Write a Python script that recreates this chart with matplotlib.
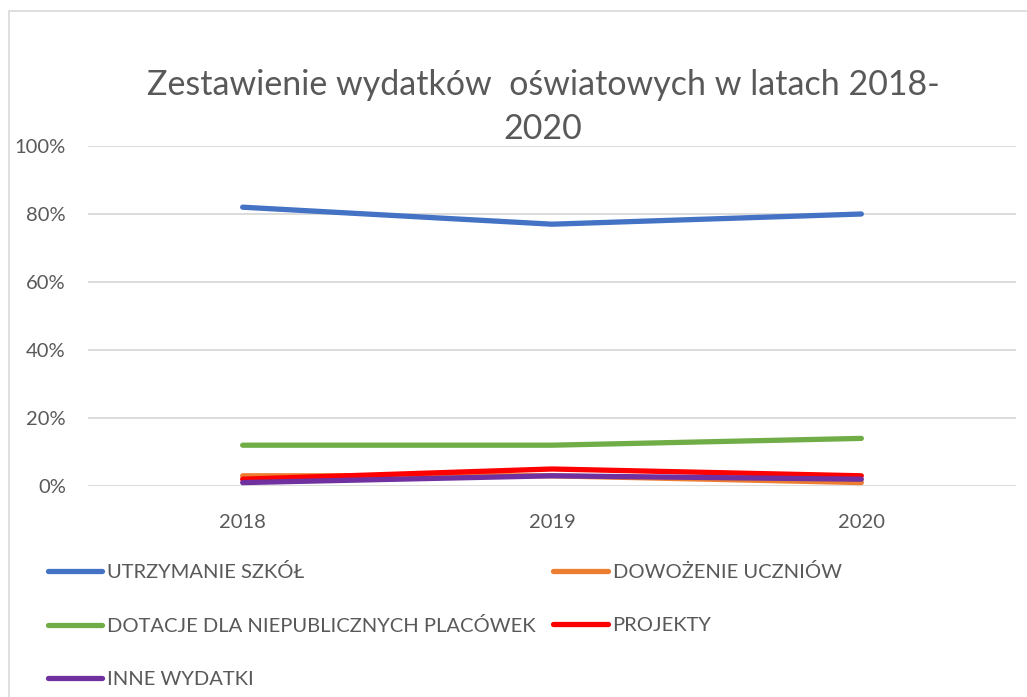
import numpy as np
import matplotlib.pyplot as plt
from matplotlib.patches import Rectangle
from matplotlib.ticker import PercentFormatter

plt.rcParams['font.family'] = ['Lato', 'DejaVu Sans']

# dane (udział w wydatkach)
years = ['2018', '2019', '2020']
utrzymanie = [0.82, 0.77, 0.80]
dowozenie = [0.03, 0.03, 0.01]
dotacje = [0.12, 0.12, 0.14]
projekty = [0.02, 0.05, 0.03]
inne = [0.01, 0.03, 0.02]

series = [
    ('UTRZYMANIE SZKÓŁ', utrzymanie, '#4472C4'),
    ('DOWOŻENIE UCZNIÓW', dowozenie, '#ED7D31'),
    ('DOTACJE DLA NIEPUBLICZNYCH PLACÓWEK', dotacje, '#70AD47'),
    ('PROJEKTY', projekty, '#FF0000'),
    ('INNE WYDATKI', inne, '#7030A0'),
]

W, H = 1027, 697
fig = plt.figure(figsize=(W / 100, H / 100), dpi=100)
ax = fig.add_axes([88 / W, 1 - 486 / H, (1016 - 88) / W, (486 - 146) / H])

x = np.arange(len(years))
lines = {}
for name, vals, col in series:
    ln, = ax.plot(x, vals, color=col, lw=3.8, solid_capstyle='round',
                  solid_joinstyle='round', label=name)
    lines[name] = ln

ax.set_xlim(-0.5, len(years) - 0.5)
ax.set_ylim(0, 1)
ax.set_yticks(np.arange(0, 1.01, 0.2))
ax.yaxis.set_major_formatter(PercentFormatter(1.0, decimals=0))
ax.set_xticks(x)
ax.set_xticklabels(years)
ax.grid(axis='y', color='#D9D9D9', lw=1.3)
ax.set_axisbelow(True)
for s in ax.spines.values():
    s.set_visible(False)
ax.tick_params(length=0, labelsize=14.5, colors='#595959', pad=16)
ax.tick_params(axis='x', pad=20)

fig.text(543 / W, 1 - 107 / H, 'Zestawienie wydatków  oświatowych w latach 2018-\n2020',
         ha='center', va='center', fontsize=24.5, color='#595959',
         linespacing=1.45)

# ramka wykresu
fig.patches.append(Rectangle((9 / W, -0.1), 1.2, 1 - 11 / H + 0.1,
                             transform=fig.transFigure, fill=False,
                             ec='#D9D9D9', lw=1.2))

order = ['UTRZYMANIE SZKÓŁ', 'DOTACJE DLA NIEPUBLICZNYCH PLACÓWEK', 'INNE WYDATKI',
         'DOWOŻENIE UCZNIÓW', 'PROJEKTY']
leg = fig.legend([lines[n] for n in order], order, ncol=2, loc='upper left',
                 bbox_to_anchor=(48 / W, 1 - 563 / H), frameon=False,
                 fontsize=14.5, handlelength=2.7, handletextpad=0.25,
                 labelspacing=1.78, columnspacing=0.85, borderpad=0,
                 borderaxespad=0)
for t in leg.get_texts():
    t.set_color('#595959')

fig.savefig('out.png', dpi=100)
